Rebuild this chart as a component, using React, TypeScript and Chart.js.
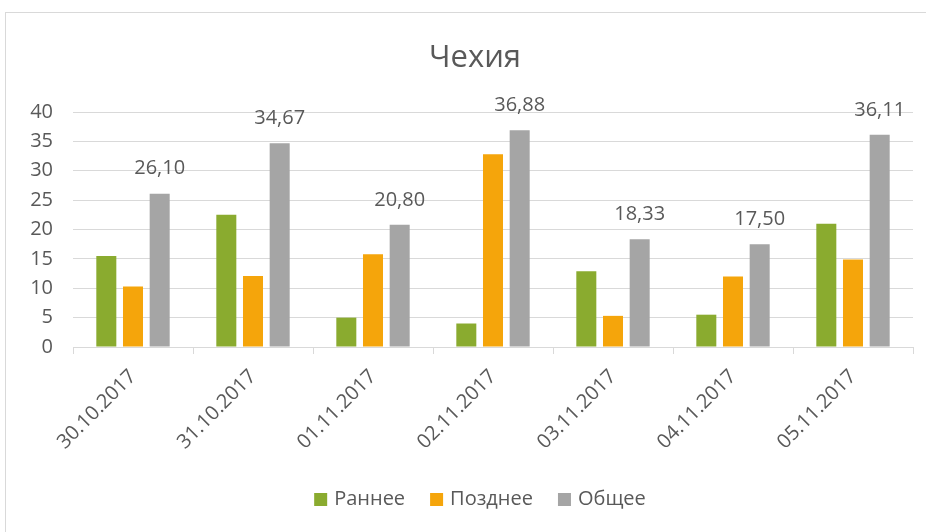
import React, { useEffect, useRef } from 'react';
import { Chart, registerables } from 'chart.js';

Chart.register(...registerables);

const chartTitle = 'Чехия';
const categories = ['30.10.2017', '31.10.2017', '01.11.2017', '02.11.2017', '03.11.2017', '04.11.2017', '05.11.2017'];
const seriesNames = ['Раннее', 'Позднее', 'Общее'];
const earlyValues = [15.5, 22.5, 5.0, 4.0, 12.9, 5.5, 21.0];
const lateValues = [10.3, 12.1, 15.8, 32.8, 5.3, 12.0, 14.9];
const totalValues = [26.10, 34.67, 20.80, 36.88, 18.33, 17.50, 36.11];
const yMin = 0;
const yMax = 40;
const yStep = 5;

const seriesColors = ['#8AAB2F', '#F5A50B', '#A5A5A5'];
const textColor = '#595959';
const gridColor = '#D9D9D9';
const fontFamily = '"Open Sans", "Liberation Sans", sans-serif';

const fmt = (v: number) => v.toFixed(2).replace('.', ',');

const totalLabels = {
  id: 'totalLabels',
  afterDatasetsDraw(chart: any) {
    const meta = chart.getDatasetMeta(2);
    const ctx = chart.ctx;
    ctx.save();
    ctx.font = `400 20px ${fontFamily}`;
    ctx.fillStyle = textColor;
    ctx.textAlign = 'center';
    ctx.textBaseline = 'middle';
    meta.data.forEach((el: any, i: number) => {
      ctx.fillText(fmt(totalValues[i]), el.x, el.y - 25);
    });
    ctx.restore();
  },
};

const titleAndLegend = {
  id: 'titleAndLegend',
  afterDraw(chart: any) {
    const ctx = chart.ctx;
    ctx.save();
    // title
    ctx.font = `400 31px ${fontFamily}`;
    ctx.fillStyle = textColor;
    ctx.textAlign = 'center';
    ctx.textBaseline = 'middle';
    ctx.fillText(chartTitle, 475, 58.6);
    // legend
    ctx.font = `400 20px ${fontFamily}`;
    const box = 13;
    const boxGap = 7;
    const itemGap = 25;
    const items = chart.data.datasets.map((d: any) => ({
      text: d.label as string,
      color: d.backgroundColor as string,
      w: ctx.measureText(d.label).width,
    }));
    const total = items.reduce((a: number, it: any) => a + box + boxGap + it.w, 0) + itemGap * (items.length - 1);
    let x = 480 - total / 2;
    const cy = 499.5;
    ctx.textAlign = 'left';
    items.forEach((it: any) => {
      ctx.fillStyle = it.color;
      ctx.fillRect(x, cy - box / 2, box, box);
      x += box + boxGap;
      ctx.fillStyle = textColor;
      ctx.fillText(it.text, x, cy);
      x += it.w + itemGap;
    });
    ctx.restore();
  },
};

export default function App() {
  const canvasRef = useRef<HTMLCanvasElement | null>(null);

  useEffect(() => {
    if (!canvasRef.current) return;
    const chart = new Chart(canvasRef.current, {
      type: 'bar',
      data: {
        labels: categories,
        datasets: [
          { label: seriesNames[0], data: earlyValues, backgroundColor: seriesColors[0] },
          { label: seriesNames[1], data: lateValues, backgroundColor: seriesColors[1] },
          { label: seriesNames[2], data: totalValues, backgroundColor: seriesColors[2] },
        ],
      },
      options: {
        responsive: false,
        animation: false,
        datasets: { bar: { categoryPercentage: 0.667, barPercentage: 0.75 } },
        layout: { padding: { top: 112, left: 0, right: 13, bottom: 70 } },
        plugins: {
          title: { display: false },
          legend: { display: false },
          tooltip: { enabled: false },
        },
        scales: {
          x: {
            grid: { offset: true, drawOnChartArea: false, color: gridColor, tickLength: 7 },
            border: { color: gridColor },
            ticks: {
              color: textColor,
              font: { family: fontFamily, size: 20 },
              minRotation: 45,
              maxRotation: 45,
              padding: 11,
              autoSkip: false,
            },
            afterFit: (s: any) => { s.height = 115; },
          },
          y: {
            min: yMin,
            max: yMax,
            ticks: {
              stepSize: yStep,
              color: textColor,
              font: { family: fontFamily, size: 20 },
              padding: 20,
            },
            grid: { color: gridColor, drawTicks: false },
            border: { display: false },
            afterFit: (s: any) => { s.width = 73; },
          },
        },
      },
      plugins: [totalLabels, titleAndLegend],
    });
    return () => chart.destroy();
  }, []);

  return (
    <div style={{ position: 'fixed', left: 0, top: 0, width: 926, height: 532, overflow: 'hidden', background: '#fff' }}>
      <div
        style={{
          position: 'absolute',
          left: 5,
          top: 12,
          width: 2000,
          height: 2000,
          border: '1px solid #D9D9D9',
          boxSizing: 'border-box',
        }}
      />
      <canvas ref={canvasRef} width={926} height={532} style={{ position: 'absolute', left: 0, top: 0 }} />
    </div>
  );
}
